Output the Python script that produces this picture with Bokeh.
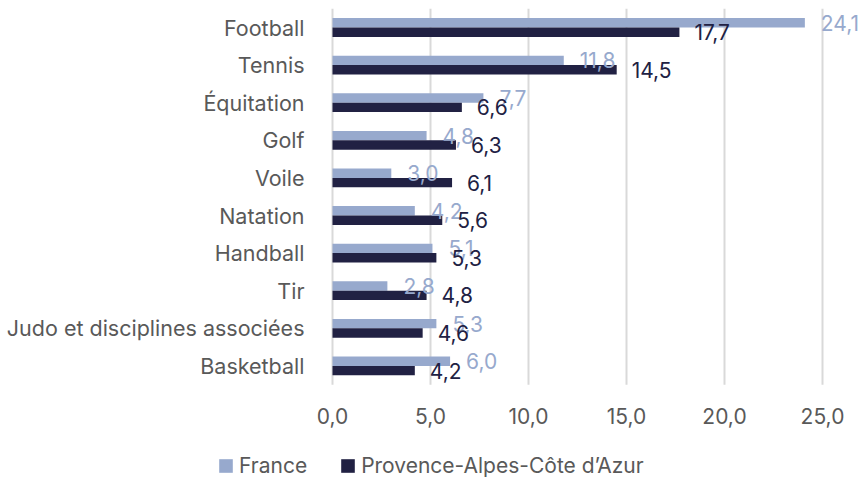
from bokeh.plotting import figure
from bokeh.models import ColumnDataSource, Range1d, FixedTicker, Legend, LegendItem
from bokeh.transform import dodge
from bokeh.core.properties import value
from bokeh.embed import file_html
from bokeh.resources import INLINE

categories = ["Football", "Tennis", "Équitation", "Golf", "Voile", "Natation",
              "Handball", "Tir", "Judo et disciplines associées", "Basketball"]
france = [24.1, 11.8, 7.7, 4.8, 3.0, 4.2, 5.1, 2.8, 5.3, 6.0]
paca = [17.7, 14.5, 6.6, 6.3, 6.1, 5.6, 5.3, 4.8, 4.6, 4.2]
x_ticks = [0, 5, 10, 15, 20, 25]
x_tick_labels = ["0,0", "5,0", "10,0", "15,0", "20,0", "25,0"]
series_names = ["France", "Provence-Alpes-Côte d\u2019Azur"]

FR_COLOR = "#97A9CD"
PACA_COLOR = "#212143"
TEXT_GRAY = "#595959"
GRID_COLOR = "#D9D9D9"
FONT = "Inter"
FS = "21px"
CAT_FS = "21.5px"

def fmt(v):
    return f"{v:.1f}".replace(".", ",")

n = len(categories)
pos = list(range(n))
src = ColumnDataSource(dict(
    pos=pos, cat=categories, france=france, paca=paca,
    france_lbl=[fmt(v) for v in france], paca_lbl=[fmt(v) for v in paca],
))

# frame covers the whole figure; axes are pinned inside it
PX_PER_UNIT_X = 19.6
PX_PER_CAT = 37.6
p = figure(width=866, height=478,
           x_range=Range1d(-332 / PX_PER_UNIT_X, 534 / PX_PER_UNIT_X),
           y_range=Range1d((478 - 27) / PX_PER_CAT, -27 / PX_PER_CAT),
           output_backend="svg", toolbar_location=None,
           min_border_left=0, min_border_right=0,
           min_border_top=0, min_border_bottom=0)

# vertical gridlines limited to the category band
grid_src = ColumnDataSource(dict(x=x_ticks, y0=[-0.5] * len(x_ticks),
                                 y1=[n - 0.5] * len(x_ticks)))
p.segment(x0="x", x1="x", y0="y0", y1="y1", source=grid_src,
          line_color=GRID_COLOR, line_width=2)

r_fr = p.hbar(y=dodge("pos", -0.125), left=0, right="france",
              height=0.25, source=src, fill_color=FR_COLOR, line_color=None)
r_pa = p.hbar(y=dodge("pos", 0.125), left=0, right="paca",
              height=0.25, source=src, fill_color=PACA_COLOR, line_color=None)

p.text(x="france", y=dodge("pos", -0.125), text="france_lbl",
       source=src, x_offset=16, text_baseline="middle", text_align="left",
       text_font=value(FONT), text_font_size=FS, text_color=FR_COLOR)
p.text(x="paca", y=dodge("pos", 0.125), text="paca_lbl",
       source=src, x_offset=15, text_baseline="middle", text_align="left",
       text_font=value(FONT), text_font_size=FS, text_color=PACA_COLOR)

p.outline_line_color = None
p.grid.visible = False

xa = p.xaxis[0]
xa.fixed_location = n - 0.5
xa.ticker = FixedTicker(ticks=x_ticks)
xa.major_label_overrides = {t: l for t, l in zip(x_ticks, x_tick_labels)}
xa.axis_line_color = None
xa.major_tick_line_color = None
xa.minor_tick_line_color = None
xa.major_label_standoff = 17
xa.major_label_text_font = FONT
xa.major_label_text_font_size = FS
xa.major_label_text_color = TEXT_GRAY

ya = p.yaxis[0]
ya.fixed_location = 0
ya.ticker = FixedTicker(ticks=pos)
ya.major_label_overrides = {i: c for i, c in zip(pos, categories)}
ya.axis_line_color = None
ya.major_tick_line_color = None
ya.minor_tick_line_color = None
ya.major_label_standoff = 22
ya.major_label_text_font = FONT
ya.major_label_text_font_size = CAT_FS
ya.major_label_text_color = TEXT_GRAY

legend = Legend(items=[LegendItem(label=series_names[0], renderers=[r_fr]),
                       LegendItem(label=series_names[1], renderers=[r_pa])],
                orientation="horizontal", location=(217, 0),
                glyph_width=17, glyph_height=17, label_standoff=5, spacing=32,
                padding=0, margin=0, border_line_color=None,
                background_fill_alpha=0,
                label_text_font=FONT, label_text_font_size=FS,
                label_text_color=TEXT_GRAY)
p.add_layout(legend, "center")

open("out.html", "w").write(file_html(p, INLINE))
